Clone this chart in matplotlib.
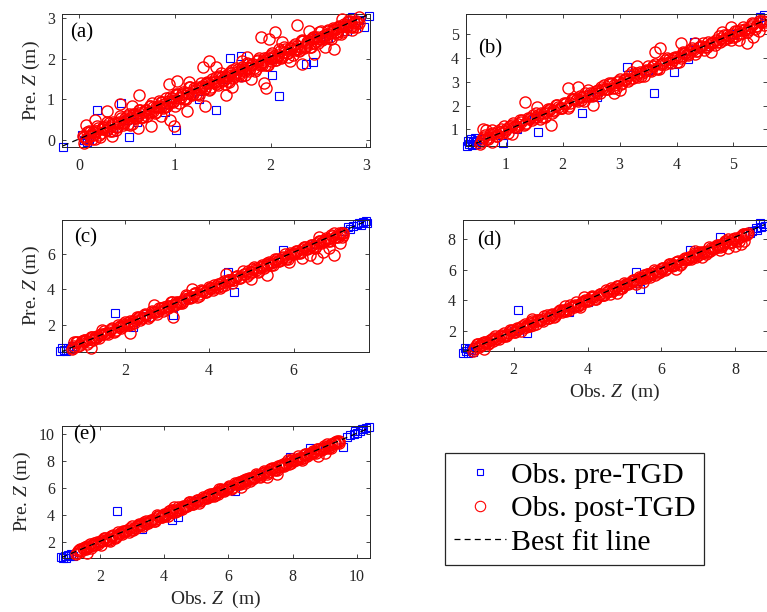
import matplotlib
matplotlib.use("Agg")
import matplotlib.pyplot as plt
from matplotlib.lines import Line2D

plt.rcParams['font.family'] = ['Liberation Serif', 'DejaVu Serif']
plt.rcParams['mathtext.fontset'] = 'custom'
plt.rcParams['mathtext.rm'] = 'Liberation Serif'
plt.rcParams['mathtext.it'] = 'Liberation Serif:italic'
plt.rcParams['lines.scale_dashes'] = False

# ---------------- data: observed vs predicted Z (m) ----------------
# (a)
a_post_obs = [0.04, 0.07, 0.10, 0.13, 0.16, 0.19, 0.22, 0.25, 0.28, 0.31, 0.34, 0.37, 0.40, 0.43, 0.46, 0.49,
              0.52, 0.55, 0.58, 0.61, 0.64, 0.67, 0.70, 0.73, 0.76, 0.79, 0.82, 0.85, 0.88, 0.91, 0.94, 0.97,
              1.00, 1.03, 1.06, 1.09, 1.12, 1.15, 1.18, 1.21, 1.24, 1.27, 1.30, 1.33, 1.36, 1.39, 1.42, 1.45,
              1.48, 1.51, 1.54, 1.57, 1.60, 1.63, 1.66, 1.69, 1.72, 1.75, 1.78, 1.81, 1.84, 1.87, 1.90, 1.93,
              1.96, 1.99, 2.02, 2.05, 2.08, 2.11, 2.14, 2.17, 2.20, 2.23, 2.26, 2.29, 2.32, 2.35, 2.38, 2.41,
              2.44, 2.47, 2.50, 2.53, 2.56, 2.59, 2.62, 2.65, 2.68, 2.71, 2.74, 2.77, 2.80, 2.83, 2.86, 2.89, 2.92,
              0.055, 0.085, 0.115, 0.145, 0.175, 0.205, 0.235, 0.265, 0.295, 0.325, 0.355, 0.385, 0.415, 0.445,
              0.475, 0.505, 0.535, 0.565, 0.595, 0.625, 0.655, 0.685, 0.715, 0.745, 0.775, 0.805, 0.835, 0.865,
              0.895, 0.925, 0.955, 0.985, 1.015, 1.045, 1.075, 1.105, 1.135, 1.165, 1.195, 1.225, 1.255, 1.285,
              1.315, 1.345, 1.375, 1.405, 1.435, 1.465, 1.495, 1.525, 1.555, 1.585, 1.615, 1.645, 1.675, 1.705,
              1.735, 1.765, 1.795, 1.825, 1.855, 1.885, 1.915, 1.945, 1.975, 2.005, 2.035, 2.065, 2.095, 2.125,
              2.155, 2.185, 2.215, 2.245, 2.275, 2.305, 2.335, 2.365, 2.395, 2.425, 2.455, 2.485, 2.515, 2.545,
              2.575, 2.605, 2.635, 2.665, 2.695, 2.725, 2.755, 2.785, 2.815, 2.845, 2.875, 2.905,
              0.05, 0.08, 0.11, 0.14, 0.17, 0.20, 0.23, 0.26, 0.29, 0.32, 0.35, 0.38, 0.41, 0.44, 0.47, 0.50,
              0.53, 0.56, 0.59, 0.62, 0.65, 0.68, 0.71, 0.74, 0.77, 0.80, 0.83, 0.86, 0.89, 0.92, 0.95, 0.98,
              1.01, 1.04, 1.07, 1.10, 1.13, 1.16, 1.19, 1.22, 1.25, 1.28, 1.31, 1.34, 1.37, 1.40, 1.43, 1.46,
              1.49, 1.52, 1.55, 1.58, 1.61, 1.64, 1.67, 1.70, 1.73, 1.76, 1.79, 1.82, 1.85, 1.88, 1.91, 1.94,
              1.97, 2.00, 2.03, 2.06, 2.09, 2.12, 2.15, 2.18, 2.21, 2.24, 2.27, 2.30, 2.33, 2.36, 2.39, 2.42,
              2.45, 2.48, 2.51, 2.54, 2.57, 2.60, 2.63, 2.66, 2.69, 2.72, 2.75, 2.78, 2.81, 2.84, 2.87, 2.90, 2.93,
              2.28, 2.05, 1.90, 1.98, 2.12, 2.57, 2.66, 2.33, 1.95, 1.93, 1.29, 1.36, 1.43, 1.53, 1.32, 1.13,
              0.95, 0.99, 1.02, 0.94, 0.62, 0.43, 0.29, 0.17, 0.07, 0.61, 0.75, 0.34, 2.75, 2.85, 1.75, 1.60,
              0.55, 2.20, 2.45, 1.15, 1.80, 2.40, 0.85, 1.70]
a_post_pred = [0.10, 0.02, 0.22, 0.03, 0.18, 0.34, 0.08, 0.33, 0.25, 0.42, 0.22, 0.41, 0.33, 0.59, 0.37, 0.50,
               0.65, 0.40, 0.65, 0.59, 0.74, 0.56, 0.75, 0.67, 0.90, 0.66, 0.85, 0.94, 0.80, 1.03, 0.90, 1.03,
               0.84, 1.14, 1.05, 1.17, 1.00, 1.30, 1.11, 1.23, 1.14, 1.40, 1.25, 1.40, 1.22, 1.49, 1.42, 1.36,
               1.64, 1.48, 1.59, 1.44, 1.72, 1.57, 1.75, 1.58, 1.75, 1.89, 1.70, 1.87, 1.69, 1.98, 1.88, 2.01,
               1.84, 2.03, 2.15, 1.98, 2.09, 2.01, 2.29, 2.13, 2.27, 2.09, 2.36, 2.24, 2.44, 2.26, 2.40, 2.28,
               2.53, 2.52, 2.39, 2.67, 2.50, 2.62, 2.54, 2.76, 2.65, 2.77, 2.62, 2.85, 2.79, 2.93, 2.79, 2.93, 2.87,
               0.075, 0.025, 0.195, 0.135, 0.225, 0.115, 0.265, 0.335, 0.255, 0.325, 0.445, 0.315, 0.455, 0.425,
               0.535, 0.405, 0.545, 0.645, 0.545, 0.655, 0.575, 0.735, 0.685, 0.845, 0.715, 0.825, 0.825, 0.935,
               0.805, 0.965, 0.955, 0.935, 1.105, 1.025, 1.135, 1.035, 1.165, 1.125, 1.275, 1.125, 1.265, 1.335,
               1.285, 1.415, 1.295, 1.425, 1.375, 1.565, 1.485, 1.565, 1.465, 1.645, 1.595, 1.675, 1.605, 1.795,
               1.695, 1.765, 1.845, 1.775, 1.935, 1.855, 1.925, 1.845, 2.045, 1.945, 2.075, 2.055, 2.185, 2.045,
               2.175, 2.145, 2.275, 2.225, 2.305, 2.215, 2.435, 2.315, 2.395, 2.495, 2.385, 2.535, 2.485, 2.555,
               2.515, 2.685, 2.625, 2.705, 2.615, 2.785, 2.715, 2.805, 2.905, 2.795, 2.905, 2.885,
               -0.06, 0.21, 0.09, 0.21, 0.03, 0.30, 0.17, 0.29, 0.44, 0.23, 0.40, 0.26, 0.42, 0.55, 0.43, 0.58,
               0.38, 0.62, 0.58, 0.74, 0.57, 0.70, 0.58, 0.83, 0.81, 0.70, 0.97, 0.81, 0.89, 0.85, 1.06, 0.95,
               1.14, 0.92, 1.13, 1.01, 1.15, 1.31, 1.13, 1.30, 1.11, 1.31, 1.29, 1.44, 1.26, 1.45, 1.55, 1.42,
               1.56, 1.37, 1.56, 1.67, 1.53, 1.78, 1.64, 1.74, 1.60, 1.87, 1.78, 1.88, 1.75, 2.01, 1.85, 1.96,
               1.85, 2.08, 2.03, 1.97, 2.24, 2.07, 2.25, 2.04, 2.24, 2.31, 2.25, 2.19, 2.45, 2.29, 2.44, 2.29,
               2.54, 2.44, 2.65, 2.46, 2.58, 2.71, 2.48, 2.72, 2.66, 2.80, 2.65, 2.82, 2.94, 2.78, 2.89, 2.78, 3.03,
               2.82, 2.65, 2.53, 2.49, 2.40, 2.28, 2.24, 1.88, 1.29, 1.41, 1.79, 1.95, 1.79, 1.12, 0.83, 0.71,
               0.50, 0.34, 1.45, 1.37, 1.12, 0.88, 0.71, 0.50, 0.38, 0.30, 0.34, 0.09, 2.98, 2.70, 2.05, 1.30,
               0.85, 1.95, 2.12, 1.42, 1.50, 2.68, 0.60, 1.95]
a_pre_obs = [-0.17, 0.03, 0.05, 0.10, 0.08, 0.19, 0.44, 0.52, 1.01, 1.43, 2.09, 2.37, 2.44, 1.58, 1.69, 1.25,
             2.02, 2.85, 2.98, 2.75, 3.03, 2.92, 2.80, 0.35, 0.60, 0.90, 1.70, 2.60, 0.50, 1.00, 1.50, 2.00,
             2.50, 2.88]
a_pre_pred = [-0.17, 0.13, 0.00, 0.03, -0.05, 0.74, 0.92, 0.07, 0.24, 0.74, 1.08, 1.87, 1.91, 2.03, 2.06, 1.00,
              1.60, 3.02, 2.78, 2.82, 3.05, 2.95, 2.68, 0.20, 0.45, 0.70, 1.55, 2.50, 0.50, 1.00, 1.50, 2.00,
              2.50, 2.90]

# (b)
b_post_obs = [0.55, 0.62, 0.69, 0.76, 0.83, 0.90, 0.97, 1.04, 1.11, 1.18, 1.25, 1.32, 1.39, 1.46, 1.53, 1.60,
              1.67, 1.74, 1.81, 1.88, 1.95, 2.02, 2.09, 2.16, 2.23, 2.30, 2.37, 2.44, 2.51, 2.58, 2.65, 2.72,
              2.79, 2.86, 2.93, 3.00, 3.07, 3.14, 3.21, 3.28, 3.35, 3.42, 3.49, 3.56, 3.63, 3.70, 3.77, 3.84,
              3.91, 3.98, 4.05, 4.12, 4.19, 4.26, 4.33, 4.40, 4.47, 4.54, 4.61, 4.68, 4.75, 4.82, 4.89, 4.96,
              5.03, 5.10, 5.17, 5.24, 5.31, 5.38, 5.45, 5.52,
              0.585, 0.655, 0.725, 0.795, 0.865, 0.935, 1.005, 1.075, 1.145, 1.215, 1.285, 1.355, 1.425, 1.495,
              1.565, 1.635, 1.705, 1.775, 1.845, 1.915, 1.985, 2.055, 2.125, 2.195, 2.265, 2.335, 2.405, 2.475,
              2.545, 2.615, 2.685, 2.755, 2.825, 2.895, 2.965, 3.035, 3.105, 3.175, 3.245, 3.315, 3.385, 3.455,
              3.525, 3.595, 3.665, 3.735, 3.805, 3.875, 3.945, 4.015, 4.085, 4.155, 4.225, 4.295, 4.365, 4.435,
              4.505, 4.575, 4.645, 4.715, 4.785, 4.855, 4.925, 4.995, 5.065, 5.135, 5.205, 5.275, 5.345, 5.415,
              5.485, 5.555,
              0.57, 0.64, 0.71, 0.78, 0.85, 0.92, 0.99, 1.06, 1.13, 1.20, 1.27, 1.34, 1.41, 1.48, 1.55, 1.62,
              1.69, 1.76, 1.83, 1.90, 1.97, 2.04, 2.11, 2.18, 2.25, 2.32, 2.39, 2.46, 2.53, 2.60, 2.67, 2.74,
              2.81, 2.88, 2.95, 3.02, 3.09, 3.16, 3.23, 3.30, 3.37, 3.44, 3.51, 3.58, 3.65, 3.72, 3.79, 3.86,
              3.93, 4.00, 4.07, 4.14, 4.21, 4.28, 4.35, 4.42, 4.49, 4.56, 4.63, 4.70, 4.77, 4.84, 4.91, 4.98,
              5.05, 5.12, 5.19, 5.26, 5.33, 5.40, 5.47, 5.54,
              1.33, 1.80, 2.10, 2.27, 2.54, 3.62, 3.71, 4.07, 4.33, 4.95, 5.24, 5.10, 5.35, 0.66, 0.60, 1.55,
              2.90, 3.30, 4.60, 5.45, 1.10, 0.75, 3.00, 4.80]
b_post_pred = [0.39, 0.67, 0.60, 0.97, 0.71, 0.91, 1.14, 0.84, 1.20, 1.15, 1.38, 1.18, 1.46, 1.38, 1.71, 1.43,
               1.71, 1.86, 1.71, 2.04, 1.90, 2.10, 1.88, 2.30, 2.22, 2.40, 2.21, 2.64, 2.42, 2.61, 2.52, 2.89,
               2.72, 2.95, 2.75, 3.13, 3.07, 3.02, 3.42, 3.24, 3.42, 3.25, 3.65, 3.48, 3.75, 3.56, 3.81, 4.02,
               3.81, 4.06, 3.85, 4.26, 4.16, 4.36, 4.17, 4.45, 4.64, 4.45, 4.62, 4.55, 4.95, 4.77, 4.98, 4.78,
               5.16, 5.03, 5.33, 5.12, 5.34, 5.21, 5.57, 5.58,
               0.605, 0.595, 0.805, 0.785, 0.915, 0.845, 1.035, 1.145, 1.105, 1.215, 1.375, 1.285, 1.465, 1.475,
               1.625, 1.535, 1.715, 1.855, 1.795, 1.945, 1.905, 2.105, 2.095, 2.295, 2.205, 2.355, 2.395, 2.545,
               2.455, 2.655, 2.685, 2.705, 2.915, 2.875, 3.025, 2.965, 3.135, 3.135, 3.325, 3.215, 3.395, 3.505,
               3.495, 3.665, 3.585, 3.755, 3.745, 3.975, 3.935, 4.055, 3.995, 4.215, 4.205, 4.325, 4.295, 4.525,
               4.465, 4.575, 4.695, 4.665, 4.865, 4.825, 4.935, 4.895, 5.135, 5.075, 5.245, 5.265, 5.435, 5.335,
               5.505, 5.515,
               0.46, 0.77, 0.69, 0.85, 0.71, 1.02, 0.93, 1.09, 1.28, 1.11, 1.32, 1.22, 1.42, 1.59, 1.51, 1.70,
               1.54, 1.82, 1.82, 2.02, 1.89, 2.06, 1.98, 2.27, 2.29, 2.22, 2.53, 2.41, 2.53, 2.53, 2.78, 2.71,
               2.94, 2.76, 3.01, 2.93, 3.11, 3.31, 3.17, 3.38, 3.23, 3.47, 3.49, 3.68, 3.54, 3.77, 3.91, 3.82,
               4.00, 3.85, 4.08, 4.23, 4.13, 4.42, 4.32, 4.46, 4.36, 4.67, 4.62, 4.76, 4.67, 4.97, 4.85, 5.00,
               4.93, 5.20, 5.19, 5.17, 5.48, 5.35, 5.57, 5.40,
               2.16, 1.18, 2.73, 2.80, 2.02, 4.27, 4.41, 4.62, 4.62, 5.32, 4.62, 4.75, 4.90, 0.97, 1.00, 1.95,
               2.55, 3.65, 4.25, 5.15, 0.80, 0.45, 2.65, 5.10]
b_pre_obs = [3.60, 2.33, 1.57, 0.95, 3.13, 3.95, 4.30, 5.47, 5.53, 5.58, 0.31, 0.35, 0.40, 0.42, 0.45, 0.48,
             0.50, 0.38, 0.55, 0.33, 0.60, 0.45, 1.50, 2.50, 3.50, 4.50, 5.00, 2.60, 4.20, 1.20, 0.90]
b_pre_pred = [2.54, 1.67, 0.87, 0.41, 3.64, 3.43, 4.69, 5.74, 5.81, 5.60, 0.30, 0.38, 0.33, 0.45, 0.50, 0.40,
              0.55, 0.60, 0.45, 0.50, 0.58, 0.65, 1.50, 2.50, 3.50, 4.50, 5.00, 2.35, 3.95, 1.00, 0.75]

# (c)
c_post_obs = [0.75, 0.84, 0.93, 1.02, 1.11, 1.20, 1.29, 1.38, 1.47, 1.56, 1.65, 1.74, 1.83, 1.92, 2.01, 2.10,
              2.19, 2.28, 2.37, 2.46, 2.55, 2.64, 2.73, 2.82, 2.91, 3.00, 3.09, 3.18, 3.27, 3.36, 3.45, 3.54,
              3.63, 3.72, 3.81, 3.90, 3.99, 4.08, 4.17, 4.26, 4.35, 4.44, 4.53, 4.62, 4.71, 4.80, 4.89, 4.98,
              5.07, 5.16, 5.25, 5.34, 5.43, 5.52, 5.61, 5.70, 5.79, 5.88, 5.97, 6.06, 6.15, 6.24, 6.33, 6.42,
              6.51, 6.60, 6.69, 6.78, 6.87, 6.96, 7.05, 7.14,
              0.795, 0.885, 0.975, 1.065, 1.155, 1.245, 1.335, 1.425, 1.515, 1.605, 1.695, 1.785, 1.875, 1.965,
              2.055, 2.145, 2.235, 2.325, 2.415, 2.505, 2.595, 2.685, 2.775, 2.865, 2.955, 3.045, 3.135, 3.225,
              3.315, 3.405, 3.495, 3.585, 3.675, 3.765, 3.855, 3.945, 4.035, 4.125, 4.215, 4.305, 4.395, 4.485,
              4.575, 4.665, 4.755, 4.845, 4.935, 5.025, 5.115, 5.205, 5.295, 5.385, 5.475, 5.565, 5.655, 5.745,
              5.835, 5.925, 6.015, 6.105, 6.195, 6.285, 6.375, 6.465, 6.555, 6.645, 6.735, 6.825, 6.915, 7.005,
              7.095, 7.185,
              0.78, 0.87, 0.96, 1.05, 1.14, 1.23, 1.32, 1.41, 1.50, 1.59, 1.68, 1.77, 1.86, 1.95, 2.04, 2.13,
              2.22, 2.31, 2.40, 2.49, 2.58, 2.67, 2.76, 2.85, 2.94, 3.03, 3.12, 3.21, 3.30, 3.39, 3.48, 3.57,
              3.66, 3.75, 3.84, 3.93, 4.02, 4.11, 4.20, 4.29, 4.38, 4.47, 4.56, 4.65, 4.74, 4.83, 4.92, 5.01,
              5.10, 5.19, 5.28, 5.37, 5.46, 5.55, 5.64, 5.73, 5.82, 5.91, 6.00, 6.09, 6.18, 6.27, 6.36, 6.45,
              6.54, 6.63, 6.72, 6.81, 6.90, 6.99, 7.08, 7.17,
              3.15, 5.36, 2.13, 6.55, 6.95, 6.70, 6.40, 7.10, 6.85, 6.20, 5.90, 2.70, 4.40, 1.20, 0.80, 5.00,
              7.15, 6.60, 3.60]
c_post_pred = [0.62, 1.01, 0.86, 1.11, 0.93, 1.33, 1.29, 1.26, 1.68, 1.52, 1.72, 1.57, 1.99, 1.84, 2.13, 1.96,
               2.23, 2.46, 2.27, 2.54, 2.35, 2.78, 2.70, 2.92, 2.75, 3.05, 3.26, 3.09, 3.28, 3.23, 3.65, 3.49,
               3.72, 3.54, 3.94, 3.83, 4.15, 3.96, 4.20, 4.09, 4.47, 4.50, 4.37, 4.67, 4.62, 5.01, 4.77, 4.99,
               5.24, 4.96, 5.34, 5.31, 5.56, 5.38, 5.68, 5.62, 5.97, 5.71, 6.01, 6.18, 6.05, 6.40, 6.28, 6.50,
               6.30, 6.74, 6.68, 6.88, 6.71, 7.16, 6.96, 7.17,
               0.815, 0.825, 1.055, 1.055, 1.205, 1.155, 1.365, 1.495, 1.475, 1.605, 1.785, 1.715, 1.915, 1.945,
               2.115, 2.045, 2.245, 2.405, 2.365, 2.535, 2.515, 2.735, 2.745, 2.965, 2.895, 3.065, 3.125, 3.295,
               3.225, 3.445, 3.495, 3.535, 3.765, 3.745, 3.915, 3.875, 4.065, 4.085, 4.295, 4.205, 4.405, 4.535,
               4.545, 4.735, 4.675, 4.865, 4.875, 5.125, 5.105, 5.245, 5.205, 5.445, 5.455, 5.595, 5.585, 5.835,
               5.795, 5.925, 6.065, 6.055, 6.275, 6.255, 6.385, 6.365, 6.625, 6.585, 6.775, 6.815, 7.005, 6.925,
               7.115, 7.145,
               0.67, 1.00, 0.94, 1.12, 1.00, 1.33, 1.26, 1.44, 1.65, 1.50, 1.73, 1.65, 1.87, 2.06, 2.00, 2.21,
               2.07, 2.37, 2.39, 2.61, 2.50, 2.69, 2.63, 2.94, 2.98, 2.93, 3.26, 3.16, 3.30, 3.32, 3.59, 3.54,
               3.79, 3.63, 3.90, 3.84, 4.04, 4.26, 4.14, 4.37, 4.24, 4.50, 4.54, 4.75, 4.63, 4.88, 5.04, 4.97,
               5.17, 5.04, 5.29, 5.46, 5.38, 5.69, 5.61, 5.77, 5.69, 6.02, 5.99, 6.15, 6.08, 6.40, 6.30, 6.47,
               6.42, 6.71, 6.72, 6.72, 7.05, 6.94, 7.18, 7.03,
               2.45, 4.80, 1.51, 5.74, 5.92, 6.10, 5.95, 6.60, 6.30, 5.75, 5.55, 3.10, 4.85, 0.70, 1.05, 4.60,
               6.95, 6.95, 4.00]
c_pre_obs = [1.77, 4.58, 5.76, 3.15, 2.20, 4.45, 0.47, 0.55, 0.60, 0.65, 0.52, 0.70, 0.75, 7.30, 7.40, 7.50,
             7.55, 7.65, 7.72, 7.75, 7.35, 7.60, 7.20, 2.50, 3.50, 5.50, 6.50, 1.30]
c_pre_pred = [2.64, 3.86, 6.21, 2.55, 1.85, 4.95, 0.50, 0.60, 0.52, 0.70, 0.68, 0.62, 0.80, 7.50, 7.55, 7.65,
              7.75, 7.80, 7.85, 7.75, 7.40, 7.60, 7.30, 2.50, 3.45, 5.50, 6.55, 1.25]

# (d)
d_post_obs = [0.90, 1.00, 1.10, 1.20, 1.30, 1.40, 1.50, 1.60, 1.70, 1.80, 1.90, 2.00, 2.10, 2.20, 2.30, 2.40,
              2.50, 2.60, 2.70, 2.80, 2.90, 3.00, 3.10, 3.20, 3.30, 3.40, 3.50, 3.60, 3.70, 3.80, 3.90, 4.00,
              4.10, 4.20, 4.30, 4.40, 4.50, 4.60, 4.70, 4.80, 4.90, 5.00, 5.10, 5.20, 5.30, 5.40, 5.50, 5.60,
              5.70, 5.80, 5.90, 6.00, 6.10, 6.20, 6.30, 6.40, 6.50, 6.60, 6.70, 6.80, 6.90, 7.00, 7.10, 7.20,
              7.30, 7.40, 7.50, 7.60, 7.70, 7.80, 7.90, 8.00, 8.10, 8.20, 8.30,
              0.95, 1.05, 1.15, 1.25, 1.35, 1.45, 1.55, 1.65, 1.75, 1.85, 1.95, 2.05, 2.15, 2.25, 2.35, 2.45,
              2.55, 2.65, 2.75, 2.85, 2.95, 3.05, 3.15, 3.25, 3.35, 3.45, 3.55, 3.65, 3.75, 3.85, 3.95, 4.05,
              4.15, 4.25, 4.35, 4.45, 4.55, 4.65, 4.75, 4.85, 4.95, 5.05, 5.15, 5.25, 5.35, 5.45, 5.55, 5.65,
              5.75, 5.85, 5.95, 6.05, 6.15, 6.25, 6.35, 6.45, 6.55, 6.65, 6.75, 6.85, 6.95, 7.05, 7.15, 7.25,
              7.35, 7.45, 7.55, 7.65, 7.75, 7.85, 7.95, 8.05, 8.15, 8.25, 8.35,
              0.93, 1.03, 1.13, 1.23, 1.33, 1.43, 1.53, 1.63, 1.73, 1.83, 1.93, 2.03, 2.13, 2.23, 2.33, 2.43,
              2.53, 2.63, 2.73, 2.83, 2.93, 3.03, 3.13, 3.23, 3.33, 3.43, 3.53, 3.63, 3.73, 3.83, 3.93, 4.03,
              4.13, 4.23, 4.33, 4.43, 4.53, 4.63, 4.73, 4.83, 4.93, 5.03, 5.13, 5.23, 5.33, 5.43, 5.53, 5.63,
              5.73, 5.83, 5.93, 6.03, 6.13, 6.23, 6.33, 6.43, 6.53, 6.63, 6.73, 6.83, 6.93, 7.03, 7.13, 7.23,
              7.33, 7.43, 7.53, 7.63, 7.73, 7.83, 7.93, 8.03, 8.13, 8.23, 8.33,
              8.15, 8.00, 7.80, 8.25, 7.60, 6.40, 5.50, 3.90, 2.50, 1.20, 7.10, 6.90, 4.80]
d_post_pred = [0.70, 1.14, 1.07, 1.30, 1.14, 1.45, 1.67, 1.51, 1.71, 1.67, 2.10, 1.95, 2.19, 2.02, 2.43, 2.33,
               2.66, 2.48, 2.73, 2.63, 3.02, 3.06, 2.94, 3.25, 3.21, 3.61, 3.38, 3.61, 3.87, 3.60, 3.99, 3.97,
               4.23, 4.06, 4.37, 4.32, 4.68, 4.43, 4.74, 4.92, 4.80, 5.16, 5.05, 5.28, 5.09, 5.54, 5.49, 5.70,
               5.54, 6.00, 5.81, 6.03, 5.97, 6.37, 6.23, 6.49, 6.32, 6.73, 6.70, 6.68, 7.11, 6.96, 7.17, 7.03,
               7.46, 7.32, 7.62, 7.46, 7.74, 7.98, 7.80, 8.08, 7.90, 8.34, 8.27,
               0.97, 0.99, 1.23, 1.24, 1.40, 1.36, 1.58, 1.72, 1.71, 1.85, 2.04, 1.98, 2.19, 2.23, 2.41, 2.35,
               2.56, 2.73, 2.70, 2.88, 2.87, 3.10, 3.12, 3.35, 3.29, 3.47, 3.54, 3.72, 3.66, 3.89, 3.95, 4.00,
               4.24, 4.23, 4.41, 4.38, 4.58, 4.61, 4.83, 4.75, 4.96, 5.10, 5.12, 5.32, 5.27, 5.47, 5.49, 5.75,
               5.74, 5.89, 5.86, 6.11, 6.13, 6.28, 6.28, 6.54, 6.51, 6.65, 6.80, 6.80, 7.03, 7.02, 7.16, 7.15,
               7.42, 7.39, 7.59, 7.64, 7.84, 7.77, 7.97, 8.01, 8.21, 8.23, 8.38,
               0.82, 1.16, 1.11, 1.30, 1.19, 1.53, 1.47, 1.66, 1.88, 1.74, 1.98, 1.91, 2.14, 2.34, 2.29, 2.51,
               2.38, 2.69, 2.72, 2.95, 2.85, 3.05, 3.00, 3.32, 3.37, 3.33, 3.67, 3.58, 3.73, 3.76, 4.04, 4.00,
               4.26, 4.11, 4.39, 4.34, 4.55, 4.78, 4.67, 4.91, 4.79, 5.06, 5.11, 5.33, 5.22, 5.48, 5.65, 5.59,
               5.80, 5.68, 5.94, 6.12, 6.05, 6.37, 6.30, 6.47, 6.40, 6.74, 6.72, 6.89, 6.83, 7.16, 7.07, 7.25,
               7.21, 7.51, 7.53, 7.54, 7.88, 7.78, 8.03, 7.89, 8.16, 8.30, 8.31,
               7.70, 7.55, 7.40, 7.90, 7.30, 6.05, 5.20, 4.25, 2.80, 0.85, 6.80, 7.25, 4.45]
d_pre_obs = [2.13, 5.41, 5.32, 6.77, 7.58, 8.66, 2.35, 0.64, 0.70, 0.75, 0.80, 0.85, 0.68, 0.95, 0.90, 8.45,
             8.55, 8.70, 8.75, 8.80, 8.60, 8.40, 2.00, 3.00, 4.00, 5.00, 6.00, 7.00, 3.50]
d_pre_pred = [3.37, 4.72, 5.87, 7.28, 8.15, 9.02, 1.85, 0.60, 0.70, 0.58, 0.85, 0.75, 0.90, 0.95, 0.65, 8.55,
              8.70, 8.80, 9.00, 8.85, 8.60, 8.40, 2.00, 3.00, 3.90, 5.00, 6.00, 7.00, 3.25]

# (e)
e_post_obs = [1.25, 1.36, 1.47, 1.58, 1.69, 1.80, 1.91, 2.02, 2.13, 2.24, 2.35, 2.46, 2.57, 2.68, 2.79, 2.90,
              3.01, 3.12, 3.23, 3.34, 3.45, 3.56, 3.67, 3.78, 3.89, 4.00, 4.11, 4.22, 4.33, 4.44, 4.55, 4.66,
              4.77, 4.88, 4.99, 5.10, 5.21, 5.32, 5.43, 5.54, 5.65, 5.76, 5.87, 5.98, 6.09, 6.20, 6.31, 6.42,
              6.53, 6.64, 6.75, 6.86, 6.97, 7.08, 7.19, 7.30, 7.41, 7.52, 7.63, 7.74, 7.85, 7.96, 8.07, 8.18,
              8.29, 8.40, 8.51, 8.62, 8.73, 8.84, 8.95, 9.06, 9.17, 9.28, 9.39,
              1.305, 1.415, 1.525, 1.635, 1.745, 1.855, 1.965, 2.075, 2.185, 2.295, 2.405, 2.515, 2.625, 2.735,
              2.845, 2.955, 3.065, 3.175, 3.285, 3.395, 3.505, 3.615, 3.725, 3.835, 3.945, 4.055, 4.165, 4.275,
              4.385, 4.495, 4.605, 4.715, 4.825, 4.935, 5.045, 5.155, 5.265, 5.375, 5.485, 5.595, 5.705, 5.815,
              5.925, 6.035, 6.145, 6.255, 6.365, 6.475, 6.585, 6.695, 6.805, 6.915, 7.025, 7.135, 7.245, 7.355,
              7.465, 7.575, 7.685, 7.795, 7.905, 8.015, 8.125, 8.235, 8.345, 8.455, 8.565, 8.675, 8.785, 8.895,
              9.005, 9.115, 9.225, 9.335, 9.445,
              1.28, 1.39, 1.50, 1.61, 1.72, 1.83, 1.94, 2.05, 2.16, 2.27, 2.38, 2.49, 2.60, 2.71, 2.82, 2.93,
              3.04, 3.15, 3.26, 3.37, 3.48, 3.59, 3.70, 3.81, 3.92, 4.03, 4.14, 4.25, 4.36, 4.47, 4.58, 4.69,
              4.80, 4.91, 5.02, 5.13, 5.24, 5.35, 5.46, 5.57, 5.68, 5.79, 5.90, 6.01, 6.12, 6.23, 6.34, 6.45,
              6.56, 6.67, 6.78, 6.89, 7.00, 7.11, 7.22, 7.33, 7.44, 7.55, 7.66, 7.77, 7.88, 7.99, 8.10, 8.21,
              8.32, 8.43, 8.54, 8.65, 8.76, 8.87, 8.98, 9.09, 9.20, 9.31, 9.42,
              7.20, 7.50, 8.80, 9.00, 9.20, 2.30, 1.60, 6.40, 4.30, 5.70, 9.45]
e_post_pred = [1.08, 1.40, 1.59, 1.48, 1.85, 1.75, 1.99, 1.81, 2.27, 2.23, 2.45, 2.30, 2.77, 2.59, 2.82, 2.77,
               3.18, 3.05, 3.32, 3.16, 3.58, 3.56, 3.55, 3.99, 3.85, 4.07, 3.94, 4.38, 4.25, 4.56, 4.41, 4.70,
               4.95, 4.78, 5.07, 4.90, 5.35, 5.29, 5.53, 5.38, 5.70, 5.93, 5.78, 5.99, 5.96, 6.40, 6.26, 6.51,
               6.35, 6.77, 6.68, 7.02, 6.85, 7.11, 7.02, 7.42, 7.47, 7.36, 7.68, 7.65, 8.06, 7.84, 8.08, 8.35,
               8.09, 8.49, 8.48, 8.75, 8.59, 8.91, 8.87, 9.24, 9.00, 9.32, 9.51,
               1.325, 1.355, 1.605, 1.625, 1.795, 1.765, 1.995, 2.145, 2.145, 2.295, 2.495, 2.445, 2.665, 2.715,
               2.905, 2.855, 3.075, 3.255, 3.235, 3.425, 3.425, 3.665, 3.695, 3.935, 3.885, 4.075, 4.155, 4.345,
               4.295, 4.535, 4.605, 4.665, 4.915, 4.915, 5.105, 5.085, 5.295, 5.335, 5.565, 5.495, 5.715, 5.865,
               5.895, 6.105, 6.065, 6.275, 6.305, 6.575, 6.575, 6.735, 6.715, 6.975, 7.005, 7.165, 7.175, 7.445,
               7.425, 7.575, 7.735, 7.745, 7.985, 7.985, 8.135, 8.135, 8.415, 8.395, 8.605, 8.665, 8.875, 8.815,
               9.025, 9.075, 9.285, 9.315, 9.475,
               1.17, 1.52, 1.48, 1.68, 1.58, 1.93, 1.88, 2.08, 2.31, 2.18, 2.43, 2.37, 2.61, 2.82, 2.78, 3.01,
               2.89, 3.21, 3.25, 3.49, 3.40, 3.61, 3.57, 3.90, 3.96, 3.93, 4.28, 4.20, 4.36, 4.40, 4.69, 4.66,
               4.93, 4.79, 5.08, 5.04, 5.26, 5.50, 5.40, 5.65, 5.54, 5.82, 5.88, 6.11, 6.01, 6.28, 6.46, 6.41,
               6.63, 6.52, 6.79, 6.98, 6.92, 7.25, 7.19, 7.37, 7.31, 7.66, 7.65, 7.83, 7.78, 8.12, 8.04, 8.23,
               8.20, 8.51, 8.54, 8.56, 8.91, 8.82, 9.08, 8.95, 9.23, 9.38, 9.40,
               6.80, 7.05, 8.40, 8.60, 8.95, 2.05, 1.20, 6.10, 4.60, 5.95, 9.30]
e_pre_obs = [2.52, 4.23, 4.44, 9.58, 7.92, 6.20, 3.30, 8.55, 0.85, 0.90, 0.95, 1.00, 1.05, 1.10, 1.15, 0.80,
             9.70, 9.80, 9.90, 10.00, 10.10, 10.20, 10.30, 10.38, 10.15, 9.95, 2.00, 3.00, 4.00, 5.00, 6.00,
             7.00, 8.00, 9.00]
e_pre_pred = [4.32, 3.63, 3.88, 9.06, 8.32, 5.75, 3.00, 8.95, 0.82, 0.95, 0.85, 1.05, 0.95, 1.15, 1.00, 0.90,
              9.75, 9.90, 10.00, 10.10, 10.25, 10.35, 10.45, 10.55, 10.40, 10.20, 2.00, 3.00, 4.00, 5.00, 6.00,
              7.00, 8.00, 9.00]

# best-fit line coefficients (slope, intercept)
fit_a = (1.01, 0.03)
fit_b = (1.02, -0.07)
fit_c = (1.02, -0.04)
fit_d = (1.02, -0.03)
fit_e = (1.00, 0.05)

panel_letters = ['(a)', '(b)', '(c)', '(d)', '(e)']
ticks_a = [0, 1, 2, 3]
ticks_b = [1, 2, 3, 4, 5]
ticks_c = [2, 4, 6]
ticks_d = [2, 4, 6, 8]
ticks_e = [2, 4, 6, 8, 10]

legend_labels = ['Obs. pre-TGD', 'Obs. post-TGD', 'Best fit line']
ylabel_text = 'Pre. $Z$ (m)'
xlabel_text = 'Obs. $Z$  (m)'

# ---------------- figure ----------------
W, H = 767, 612
fig = plt.figure(figsize=(W / 100, H / 100), dpi=100)
fig.patch.set_facecolor('white')

AX_COL = '#262626'
DASH = (0, (4.3, 3.0))


def px_rect(left, top, right, bottom):
    return [left / W, (H - bottom) / H, (right - left) / W, (bottom - top) / H]


panels = [
    dict(rect=px_rect(62, 14, 370, 147), pre=(a_pre_obs, a_pre_pred), post=(a_post_obs, a_post_pred),
         fit=fit_a, xlim=(-0.18, 3.04), ylim=(-0.17, 3.10), xt=ticks_a, yt=ticks_a,
         letter=(0.026, 0.93), ylab=True, xlab=False),
    dict(rect=px_rect(466, 14, 767, 146), pre=(b_pre_obs, b_pre_pred), post=(b_post_obs, b_post_pred),
         fit=fit_b, xlim=(0.30, 5.59), ylim=(0.30, 5.86), xt=ticks_b, yt=ticks_b,
         letter=(0.04, 0.81), ylab=False, xlab=False),
    dict(rect=px_rect(62, 220, 369, 352), pre=(c_pre_obs, c_pre_pred), post=(c_post_obs, c_post_pred),
         fit=fit_c, xlim=(0.51, 7.79), ylim=(0.46, 7.90), xt=ticks_c, yt=ticks_c,
         letter=(0.039, 0.935), ylab=True, xlab=False),
    dict(rect=px_rect(462.7, 220, 767, 351), pre=(d_pre_obs, d_pre_pred), post=(d_post_obs, d_post_pred),
         fit=fit_d, xlim=(0.62, 8.86), ylim=(0.70, 9.24), xt=ticks_d, yt=ticks_d,
         letter=(0.046, 0.915), ylab=False, xlab=True),
    dict(rect=px_rect(61.7, 425.7, 370, 557.7), pre=(e_pre_obs, e_pre_pred), post=(e_post_obs, e_post_pred),
         fit=fit_e, xlim=(0.81, 10.41), ylim=(0.84, 10.61), xt=ticks_e, yt=ticks_e,
         letter=(0.036, 1.0), ylab=True, xlab=True),
]

for letter, p in zip(panel_letters, panels):
    ax = fig.add_axes(p['rect'])
    ax.plot(p['pre'][0], p['pre'][1], ls='none', marker='s', ms=5.3, mfc='none', mec='#0000ff',
            mew=0.8, clip_on=False, zorder=2)
    ax.plot(p['post'][0], p['post'][1], ls='none', marker='o', ms=8, mfc='none', mec='#ff0000',
            mew=1.0, clip_on=False, zorder=3)
    all_obs = list(p['pre'][0]) + list(p['post'][0])
    x0, x1 = min(all_obs), max(all_obs)
    m, b = p['fit']
    ax.plot([x0, x1], [m * x0 + b, m * x1 + b], color='black', ls=DASH, lw=0.9, zorder=4)

    ax.set_xlim(*p['xlim'])
    ax.set_ylim(*p['ylim'])
    ax.set_xticks(p['xt'])
    ax.set_yticks(p['yt'])
    ax.tick_params(direction='in', top=True, right=True, length=3.2, width=0.6,
                   labelsize=11.5, colors=AX_COL, labelcolor=AX_COL)
    ax.tick_params(axis='x', pad=8)
    ax.tick_params(axis='y', pad=5)
    for s in ax.spines.values():
        s.set_color(AX_COL)
        s.set_linewidth(0.7)
    ax.text(p['letter'][0], p['letter'][1], letter, transform=ax.transAxes,
            ha='left', va='top', fontsize=15, color='black')
    if p['ylab']:
        ax.set_ylabel(ylabel_text, fontsize=14, color=AX_COL, labelpad=4)
    if p['xlab']:
        ax.set_xlabel(xlabel_text, fontsize=14, color=AX_COL, labelpad=3)

handles = [
    Line2D([], [], ls='none', marker='s', ms=5, mfc='none', mec='#0000ff', mew=0.8),
    Line2D([], [], ls='none', marker='o', ms=7.5, mfc='none', mec='#ff0000', mew=0.8),
    Line2D([], [], color='black', ls=DASH, lw=0.9),
]
leg = fig.legend(handles, legend_labels, loc='upper left',
                 bbox_to_anchor=(445 / W, (H - 453) / H), bbox_transform=fig.transFigure,
                 borderaxespad=0, frameon=True, fancybox=False, framealpha=1,
                 edgecolor=AX_COL, handlelength=1.75, handletextpad=0.15,
                 borderpad=0.3, labelspacing=0.22, numpoints=1,
                 prop={'family': 'Liberation Serif', 'size': 21.5})
leg.get_frame().set_linewidth(0.9)

fig.savefig('out.png', dpi=100, facecolor='white')
